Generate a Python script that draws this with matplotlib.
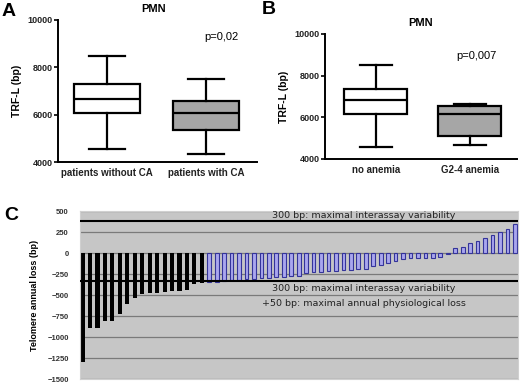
import matplotlib.pyplot as plt
import numpy as np

plt.rcParams['font.family'] = ['Liberation Sans', 'DejaVu Sans']

# Panel A: TRF-L by cytogenetic abnormality (box stats)
a_labels = ['patients without CA', 'patients with CA']
a_whislo = [4560, 4320]
a_q1 = [6080, 5340]
a_med = [6670, 6050]
a_q3 = [7280, 6570]
a_whishi = [8480, 7500]
a_fill = ['white', '#a6a6a6']

# Panel B: TRF-L by anemia grade
b_labels = ['no anemia', 'G2-4 anemia']
b_whislo = [4590, 4660]
b_q1 = [6140, 5100]
b_med = [6830, 6140]
b_q3 = [7340, 6560]
b_whishi = [8510, 6620]
b_fill = ['white', '#a6a6a6']

# Panel C: telomere annual loss per patient (bp)
loss_fast = [-1300, -890, -890, -810, -810, -730, -610, -540, -485,
             -470, -470, -460, -455, -450, -440, -370, -360]
loss_slow = [-345, -340, -330, -325, -318, -312, -305, -300, -292, -287,
             -283, -278, -270, -240, -225, -220, -215, -210, -205, -200,
             -195, -190, -160, -145, -120, -95, -70, -60, -60, -55,
             -55, -50, -12, 60, 75, 120, 140, 180, 220, 255, 290, 340]
upper_limit = 380
lower_limit = -330

fig = plt.figure(figsize=(5.2, 3.83), dpi=100)


def box_panel(ax, labels, lo, q1, med, q3, hi, fills, cap):
    stats = []
    for i in range(len(labels)):
        stats.append(dict(whislo=lo[i], q1=q1[i], med=med[i], q3=q3[i],
                          whishi=hi[i], fliers=[], label=labels[i]))
    bp = ax.bxp(stats, widths=0.67, patch_artist=True, showfliers=False,
                capwidths=cap,
                boxprops=dict(lw=1.6, edgecolor='black'),
                medianprops=dict(color='black', lw=1.6),
                whiskerprops=dict(color='black', lw=1.6),
                capprops=dict(color='black', lw=1.6))
    for patch, c in zip(bp['boxes'], fills):
        patch.set_facecolor(c)
    ax.set_ylim(4000, 10000)
    ax.set_yticks([4000, 6000, 8000, 10000])
    ax.spines['top'].set_visible(False)
    ax.spines['right'].set_visible(False)
    ax.spines['left'].set_linewidth(1.4)
    ax.spines['bottom'].set_linewidth(1.4)
    ax.tick_params(axis='x', length=0, pad=4, labelsize=7)
    ax.tick_params(axis='y', length=3, width=1.2, labelsize=6.5, pad=1)
    for t in ax.get_yticklabels() + ax.get_xticklabels():
        t.set_fontweight('bold')
        t.set_color('#222222')
    ax.set_ylabel('TRF-L (bp)', fontsize=7.5, fontweight='bold', labelpad=4)
    ax.set_title('PMN', fontsize=8, fontweight='bold', pad=6)


axA = fig.add_axes([0.1115, 0.577, 0.3827, 0.3708])
box_panel(axA, a_labels, a_whislo, a_q1, a_med, a_q3, a_whishi, a_fill, 0.37)
axA.set_xlim(0.5, 2.52)
axA.title.set_position((0.48, 1.0))
axA.text(0.82, 0.88, 'p=0,02', transform=axA.transAxes, fontsize=8,
         ha='center', va='center')

axB = fig.add_axes([0.625, 0.585, 0.369, 0.3264])
box_panel(axB, b_labels, b_whislo, b_q1, b_med, b_q3, b_whishi, b_fill, 0.34)
axB.set_xlim(0.46, 2.5)
axB.title.set_y(1.08)
axB.text(0.79, 0.82, 'p=0,007', transform=axB.transAxes, fontsize=8,
         ha='center', va='center')

# Panel C
axC = fig.add_axes([0.1538, 0.0104, 0.842, 0.4386])
axC.set_facecolor('#c6c6c6')
n_fast = len(loss_fast)
x_fast = np.arange(n_fast)
x_slow = np.arange(n_fast, n_fast + len(loss_slow))
axC.set_axisbelow(True)
axC.grid(axis='y', color='#7a7a7a', lw=0.9)
axC.bar(x_fast, loss_fast, width=0.55, color='black', zorder=2)
axC.bar(x_slow, loss_slow, width=0.5, color='#a9a6ee',
        edgecolor='#34349a', lw=0.8, zorder=2)
axC.axhline(upper_limit, color='black', lw=1.5, zorder=3)
axC.axhline(lower_limit, color='black', lw=1.5, zorder=3)
axC.set_xlim(-0.35, len(loss_fast) + len(loss_slow) - 0.6)
axC.set_ylim(-1500, 500)
axC.set_yticks(np.arange(-1500, 501, 250))
axC.set_xticks([])
for s in axC.spines.values():
    s.set_color('#d0d0d0')
axC.tick_params(axis='y', length=0, labelsize=5.5, pad=8)
for t in axC.get_yticklabels():
    t.set_fontweight('bold')
    t.set_color('#333333')
axC.set_ylabel('Telomere annual loss (bp)', fontsize=6.5, fontweight='bold',
               labelpad=6)
note = dict(ha='center', va='center', transform=axC.transAxes, fontsize=6.8,
            color='#222222', family=['DejaVu Sans'])
axC.text(0.648, 0.972, '300 bp: maximal interassay variability', **note)
axC.text(0.648, 0.538, '300 bp: maximal interassay variability', **note)
axC.text(0.648, 0.448, '+50 bp: maximal annual physiological loss', **note)

# panel letters
fig.text(0.003, 0.97, 'A', fontsize=14, fontweight='bold', va='center')
fig.text(0.503, 0.998, 'B', fontsize=14, fontweight='bold', va='top')
fig.text(0.008, 0.437, 'C', fontsize=14, fontweight='bold', va='center')

fig.savefig('out.png', dpi=100)
